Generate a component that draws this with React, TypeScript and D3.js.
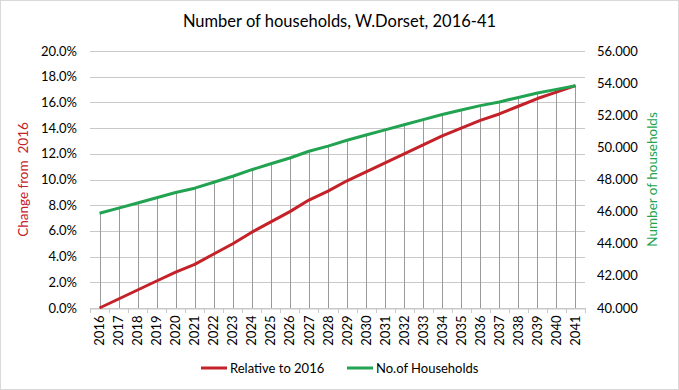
import React, { useEffect, useRef } from 'react';
import * as d3 from 'd3';

const years = ['2016', '2017', '2018', '2019', '2020', '2021', '2022', '2023', '2024', '2025', '2026', '2027', '2028',
  '2029', '2030', '2031', '2032', '2033', '2034', '2035', '2036', '2037', '2038', '2039', '2040', '2041'];
const relative = [0.0, 0.7, 1.4, 2.1, 2.8, 3.4, 4.2, 5.0, 5.9, 6.7, 7.5, 8.4, 9.1,
  9.9, 10.6, 11.3, 12.0, 12.7, 13.4, 14.0, 14.6, 15.1, 15.7, 16.3, 16.8, 17.3];
const households = [45900, 46220, 46540, 46860, 47190, 47460, 47830, 48200, 48610, 48980, 49340, 49760, 50080,
  50440, 50770, 51090, 51410, 51730, 52050, 52330, 52600, 52830, 53110, 53380, 53610, 53840];
const leftTicks = [0, 2, 4, 6, 8, 10, 12, 14, 16, 18, 20];
const rightTicks = [40000, 42000, 44000, 46000, 48000, 50000, 52000, 54000, 56000];

const RED = '#c42128';
const GREEN = '#22a352';
const FONT = 'Lato, "Open Sans", sans-serif';

export default function App() {
  const svgRef = useRef<SVGSVGElement>(null);
  const width = 679;
  const height = 390;
  const margin = { top: 51, right: 94, bottom: 82, left: 90 };

  useEffect(() => {
    const svg = d3.select(svgRef.current);
    svg.selectAll('*').remove();

    const x = d3.scaleBand().domain(years).range([margin.left, width - margin.right]);
    const cx = (d: string) => (x(d) as number) + x.bandwidth() / 2;
    const yL = d3.scaleLinear().domain([0, 20]).range([height - margin.bottom, margin.top]);
    const yR = d3.scaleLinear().domain([40000, 56000]).range([height - margin.bottom, margin.top]);

    // fond + bordure
    svg.append('rect').attr('x', 0.5).attr('y', 0.5).attr('width', width - 1).attr('height', height - 1)
      .attr('fill', '#fff').attr('stroke', '#d9d9d9');

    // titre
    svg.append('text').attr('x', width / 2).attr('y', 27).attr('text-anchor', 'middle')
      .attr('font-family', FONT).attr('font-size', 16.5).attr('fill', '#000')
      .text('Number of households, W.Dorset, 2016-41');

    // grille horizontale
    svg.append('g').selectAll('line').data(leftTicks).enter().append('line')
      .attr('x1', margin.left).attr('x2', width - margin.right)
      .attr('y1', (d) => Math.round(yL(d)) + 0.5).attr('y2', (d) => Math.round(yL(d)) + 0.5)
      .attr('stroke', '#c8c8c8');

    // lignes de rappel (drop lines)
    svg.append('g').selectAll('line').data(years).enter().append('line')
      .attr('x1', (d) => Math.round(cx(d)) + 0.5).attr('x2', (d) => Math.round(cx(d)) + 0.5)
      .attr('y1', (_, i) => Math.min(yR(households[i]), yL(relative[i])))
      .attr('y2', height - margin.bottom)
      .attr('stroke', '#9a9a9a');

    // axe x
    const xAxis = svg.append('g')
      .attr('transform', `translate(0,${Math.round(yL(0)) + 0.5})`)
      .call(d3.axisBottom(x).tickSize(0).tickPadding(6));
    xAxis.select('.domain').attr('stroke', '#c8c8c8');
    xAxis.selectAll('.tick text')
      .attr('font-family', FONT).attr('font-size', 13).attr('fill', '#000')
      .attr('transform', 'rotate(-90)').attr('text-anchor', 'end')
      .attr('x', -7).attr('y', 0).attr('dy', '0.35em');
    // petites graduations entre catégories
    svg.append('g').selectAll('line').data(d3.range(years.length + 1)).enter().append('line')
      .attr('x1', (i) => Math.round(margin.left + i * x.step()) + 0.5)
      .attr('x2', (i) => Math.round(margin.left + i * x.step()) + 0.5)
      .attr('y1', yL(0)).attr('y2', yL(0) + 5)
      .attr('stroke', '#c8c8c8');

    // axe gauche
    svg.append('g').selectAll('text').data(leftTicks).enter().append('text')
      .attr('x', margin.left - 13).attr('y', (d) => yL(d)).attr('dy', '0.35em')
      .attr('text-anchor', 'end').attr('font-family', FONT).attr('font-size', 13).attr('fill', '#000')
      .text((d) => d.toFixed(1) + '%');

    // axe droit
    svg.append('g').selectAll('text').data(rightTicks).enter().append('text')
      .attr('x', width - margin.right + 12).attr('y', (d) => yR(d)).attr('dy', '0.35em')
      .attr('text-anchor', 'start').attr('font-family', FONT).attr('font-size', 13).attr('fill', '#000')
      .text((d) => d3.format('.3f')(d / 1000));

    // titres des axes
    const midY = (margin.top + height - margin.bottom) / 2;
    svg.append('text').attr('transform', `translate(28,${midY}) rotate(-90)`)
      .attr('text-anchor', 'middle').attr('font-family', FONT).attr('font-size', 13.5).attr('fill', RED)
      .text('Change from\u00a0 2016');
    svg.append('text').attr('transform', `translate(657,${midY}) rotate(-90)`)
      .attr('text-anchor', 'middle').attr('font-family', FONT).attr('font-size', 13.5).attr('fill', GREEN)
      .text('Number of households');

    // séries
    const lineL = d3.line<number>().x((_, i) => cx(years[i])).y((d) => yL(d));
    const lineR = d3.line<number>().x((_, i) => cx(years[i])).y((d) => yR(d));
    svg.append('path').datum(relative).attr('d', lineL).attr('fill', 'none')
      .attr('stroke', RED).attr('stroke-width', 3).attr('stroke-linejoin', 'round');
    svg.append('path').datum(households).attr('d', lineR).attr('fill', 'none')
      .attr('stroke', GREEN).attr('stroke-width', 3).attr('stroke-linejoin', 'round');

    // légende
    const legend = [
      { label: 'Relative to 2016', color: RED, x: 201 },
      { label: 'No.of Households', color: GREEN, x: 347 },
    ];
    const lg = svg.append('g').selectAll('g').data(legend).enter().append('g')
      .attr('transform', (d) => `translate(${d.x},368)`);
    lg.append('line').attr('x1', 0).attr('x2', 26).attr('stroke', (d) => d.color).attr('stroke-width', 3);
    lg.append('text').attr('x', 29).attr('dy', '0.35em').attr('font-family', FONT).attr('font-size', 13)
      .attr('fill', '#000').text((d) => d.label);
  }, []);

  return (
    <svg ref={svgRef} width={width} height={height} style={{ position: 'absolute', left: 0, top: 0 }}></svg>
  );
}
